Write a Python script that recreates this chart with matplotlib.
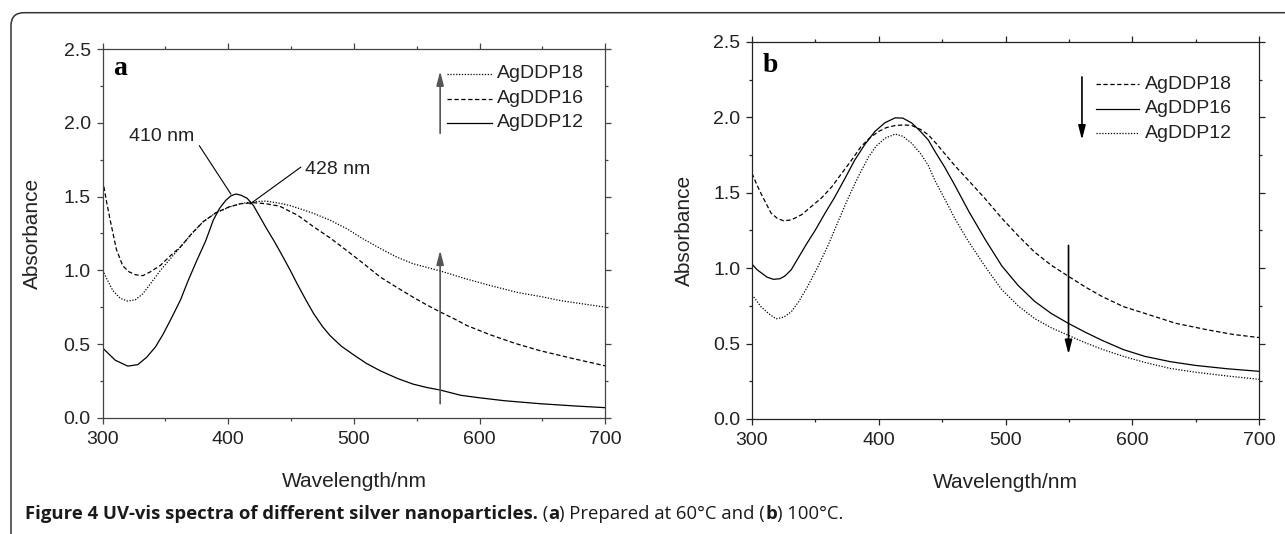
import matplotlib
matplotlib.use('Agg')
import matplotlib.pyplot as plt
from matplotlib.patches import FancyBboxPatch
from matplotlib.ticker import MultipleLocator, FormatStrFormatter

plt.rcParams['font.family'] = ['Liberation Sans', 'DejaVu Sans']

# ---- panel a (60 C) ----
wl_a12 = [300, 310, 320, 328, 335, 342, 348, 355, 362, 368, 375, 382, 388, 393, 398, 402, 406, 410,
          415, 420, 425, 430, 436, 441, 449, 455, 462, 468, 475, 481, 490, 500, 510, 521, 535, 547,
          558, 569, 585, 600, 620, 648, 675, 700]
abs_a12 = [0.473, 0.39, 0.35, 0.36, 0.41, 0.48, 0.565, 0.68, 0.80, 0.93, 1.068, 1.20, 1.34, 1.42, 1.475,
           1.505, 1.518, 1.51, 1.489, 1.44, 1.365, 1.29, 1.205, 1.13, 1.005, 0.905, 0.795, 0.705, 0.618, 0.557,
           0.485, 0.425, 0.368, 0.318, 0.265, 0.228, 0.205, 0.187, 0.152, 0.135, 0.115, 0.095, 0.08, 0.068]

wl_a16 = [300, 303, 306, 311, 316, 321, 326, 332, 338, 346, 354, 362, 371, 380, 390, 401, 410, 420,
          430, 441, 449, 455, 468, 481, 494, 507, 521, 534, 547, 558, 569, 580, 590, 608, 628, 648,
          675, 700]
abs_a16 = [1.614, 1.47, 1.34, 1.14, 1.03, 0.99, 0.97, 0.964, 0.99, 1.034, 1.10, 1.16, 1.25, 1.33, 1.39,
           1.432, 1.452, 1.459, 1.452, 1.435, 1.40, 1.375, 1.295, 1.22, 1.136, 1.05, 0.954, 0.885, 0.818,
           0.765, 0.716, 0.67, 0.625, 0.564, 0.505, 0.455, 0.40, 0.352]

wl_a18 = [300, 304, 308, 314, 320, 326, 332, 339, 346, 354, 362, 371, 380, 390, 401, 410, 420, 430,
          441, 449, 458, 468, 481, 494, 507, 521, 534, 547, 558, 569, 588, 608, 630, 650, 664, 680, 700]
abs_a18 = [1.0, 0.93, 0.864, 0.81, 0.791, 0.80, 0.841, 0.92, 1.0, 1.08, 1.159, 1.25, 1.33, 1.39, 1.43,
           1.453, 1.466, 1.47, 1.455, 1.44, 1.415, 1.386, 1.34, 1.284, 1.215, 1.148, 1.09, 1.045, 1.02,
           0.995, 0.945, 0.898, 0.85, 0.82, 0.795, 0.775, 0.75]

# ---- panel b (100 C) ----
wl_b18 = [300, 304, 308, 315, 320, 325, 331, 339, 347, 355, 363, 370, 378, 386, 393, 400, 406, 413,
          420, 426, 433, 439, 445, 452, 460, 471, 484, 497, 510, 523, 536, 550, 563, 576, 593, 610,
          634, 660, 680, 700]
abs_b18 = [1.63, 1.55, 1.48, 1.366, 1.33, 1.314, 1.32, 1.354, 1.41, 1.467, 1.54, 1.62, 1.71, 1.806,
           1.865, 1.907, 1.932, 1.946, 1.95, 1.946, 1.92, 1.885, 1.83, 1.76, 1.68, 1.58, 1.46, 1.332,
           1.215, 1.106, 1.02, 0.944, 0.875, 0.813, 0.745, 0.70, 0.635, 0.59, 0.56, 0.54]

wl_b16 = [300, 304, 307, 312, 317, 322, 326, 331, 336, 343, 350, 358, 365, 373, 381, 389, 397, 405,
          413, 419, 426, 432, 439, 445, 452, 460, 471, 484, 497, 510, 523, 536, 550, 563, 576, 593,
          610, 630, 650, 675, 700]
abs_b16 = [1.027, 0.99, 0.971, 0.94, 0.926, 0.93, 0.948, 0.99, 1.061, 1.16, 1.253, 1.37, 1.467, 1.59,
           1.716, 1.82, 1.907, 1.965, 1.997, 1.995, 1.963, 1.915, 1.851, 1.765, 1.67, 1.55, 1.377, 1.19,
           1.016, 0.885, 0.78, 0.70, 0.632, 0.575, 0.522, 0.46, 0.415, 0.38, 0.355, 0.333, 0.316]

wl_b12 = [300, 304, 307, 313, 319, 325, 331, 337, 344, 352, 360, 368, 376, 384, 392, 398, 405, 413,
          419, 426, 433, 439, 445, 452, 460, 471, 484, 497, 510, 523, 536, 550, 563, 576, 593, 610,
          630, 650, 675, 700]
abs_b12 = [0.824, 0.78, 0.745, 0.70, 0.664, 0.675, 0.711, 0.78, 0.88, 1.01, 1.151, 1.31, 1.467, 1.61,
           1.738, 1.81, 1.862, 1.889, 1.875, 1.828, 1.76, 1.682, 1.57, 1.46, 1.33, 1.174, 1.01, 0.858,
           0.75, 0.666, 0.605, 0.553, 0.505, 0.463, 0.415, 0.375, 0.335, 0.31, 0.285, 0.263]

labels = ['AgDDP18', 'AgDDP16', 'AgDDP12']

SOLID = '-'
DASHED = (0, (3.5, 2))
DOTTED = (0, (1, 1.3))

fig = plt.figure(figsize=(12.85, 5.34), dpi=100)

# rounded frame around the figure, open to the right/bottom
frame = FancyBboxPatch((0.11, -1.0), 14.0, 6.213, boxstyle='round,pad=0,rounding_size=0.13',
                       transform=fig.dpi_scale_trans, fill=False, edgecolor='#333333', lw=1.1)
fig.patches.append(frame)

ax_a = fig.add_axes([0.0799, 0.2178, 0.3911, 0.6899])
ax_b = fig.add_axes([0.5852, 0.2154, 0.3946, 0.7060])


def style_axes(ax, spine_color, xlab_y, ylab_x):
    ax.set_xlim(300, 700)
    ax.set_ylim(0, 2.5)
    ax.xaxis.set_major_locator(MultipleLocator(100))
    ax.xaxis.set_minor_locator(MultipleLocator(50))
    ax.yaxis.set_major_locator(MultipleLocator(0.5))
    ax.yaxis.set_minor_locator(MultipleLocator(0.25))
    ax.yaxis.set_major_formatter(FormatStrFormatter('%.1f'))
    ax.tick_params(which='both', direction='out', top=True, right=True, labelsize=14,
                   color=spine_color, width=0.9, labelcolor='#222222')
    ax.tick_params(which='major', length=4.5)
    ax.tick_params(which='minor', length=2.5)
    ax.tick_params(axis='x', pad=5)
    ax.tick_params(axis='y', pad=4)
    for s in ax.spines.values():
        s.set_color(spine_color)
        s.set_linewidth(0.9)
    ax.set_xlabel('Wavelength/nm', fontsize=15, color='#222222')
    ax.set_ylabel('Absorbance', fontsize=15, color='#222222')
    ax.xaxis.set_label_coords(0.5, xlab_y)
    ax.yaxis.set_label_coords(ylab_x, 0.5)


def draw_legend(ax, styles, x0, x1, xt, ys):
    for lab, ls, y in zip(labels, styles, ys):
        ax.plot([x0, x1], [y, y], color='k', lw=0.9, linestyle=ls)
        ax.text(xt, y, lab, fontsize=14, va='center', ha='left', color='#222222')


def arrow(ax, x, y_from, y_to, color):
    ax.annotate('', xy=(x, y_to), xytext=(x, y_from),
                arrowprops=dict(arrowstyle='-|>,head_length=0.7,head_width=0.18', color=color,
                                lw=1.2, mutation_scale=12, shrinkA=0, shrinkB=0))


# panel a
ax_a.plot(wl_a18, abs_a18, color='k', lw=0.9, linestyle=DOTTED)
ax_a.plot(wl_a16, abs_a16, color='k', lw=0.9, linestyle=DASHED)
ax_a.plot(wl_a12, abs_a12, color='k', lw=0.9, linestyle=SOLID)
style_axes(ax_a, '#444444', -0.147, -0.12)
draw_legend(ax_a, [DOTTED, DASHED, SOLID], 574, 609.5, 614, [2.334, 2.164, 2.0])
arrow(ax_a, 568.6, 1.93, 2.352, '#555555')
arrow(ax_a, 568.6, 0.095, 1.136, '#555555')
ax_a.plot([377, 402], [1.845, 1.518], color='k', lw=0.8)
ax_a.text(321, 1.909, '410 nm', fontsize=14, va='center', ha='left', color='#222222')
ax_a.plot([457.7, 417.3], [1.70, 1.45], color='k', lw=0.8)
ax_a.text(461, 1.686, '428 nm', fontsize=14, va='center', ha='left', color='#222222')
ax_a.text(0.02, 0.93, 'a', transform=ax_a.transAxes, fontsize=20, fontweight='bold',
          family='Liberation Serif', va='baseline')

# panel b
ax_b.plot(wl_b18, abs_b18, color='k', lw=0.9, linestyle=DASHED)
ax_b.plot(wl_b16, abs_b16, color='k', lw=0.9, linestyle=SOLID)
ax_b.plot(wl_b12, abs_b12, color='k', lw=0.9, linestyle=DOTTED)
style_axes(ax_b, '#222222', -0.144, -0.115)
draw_legend(ax_b, [DASHED, SOLID, DOTTED], 571.6, 605.5, 610, [2.219, 2.058, 1.896])
arrow(ax_b, 560.3, 2.268, 1.851, 'k')
arrow(ax_b, 549.7, 1.151, 0.429, 'k')
ax_b.text(0.022, 0.92, 'b', transform=ax_b.transAxes, fontsize=20, fontweight='bold',
          family='Liberation Serif', va='baseline')

# caption
renderer = fig.canvas.get_renderer()
pieces = [('Figure 4 UV-vis spectra of different silver nanoparticles.', 'bold'),
          (' (', 'normal'), ('a', 'bold'), (') Prepared at 60\u00b0C and (', 'normal'),
          ('b', 'bold'), (') 100\u00b0C.', 'normal')]
x = 25 / 1285
y = (534 - 514) / 534
for txt, weight in pieces:
    t = fig.text(x, y, txt, fontsize=13.3, fontweight=weight, family=['Open Sans', 'DejaVu Sans'],
                 va='center', ha='left', color='#1a1a1a')
    bb = t.get_window_extent(renderer)
    x = bb.x1 / fig.bbox.width

fig.savefig('out.png', dpi=100)
